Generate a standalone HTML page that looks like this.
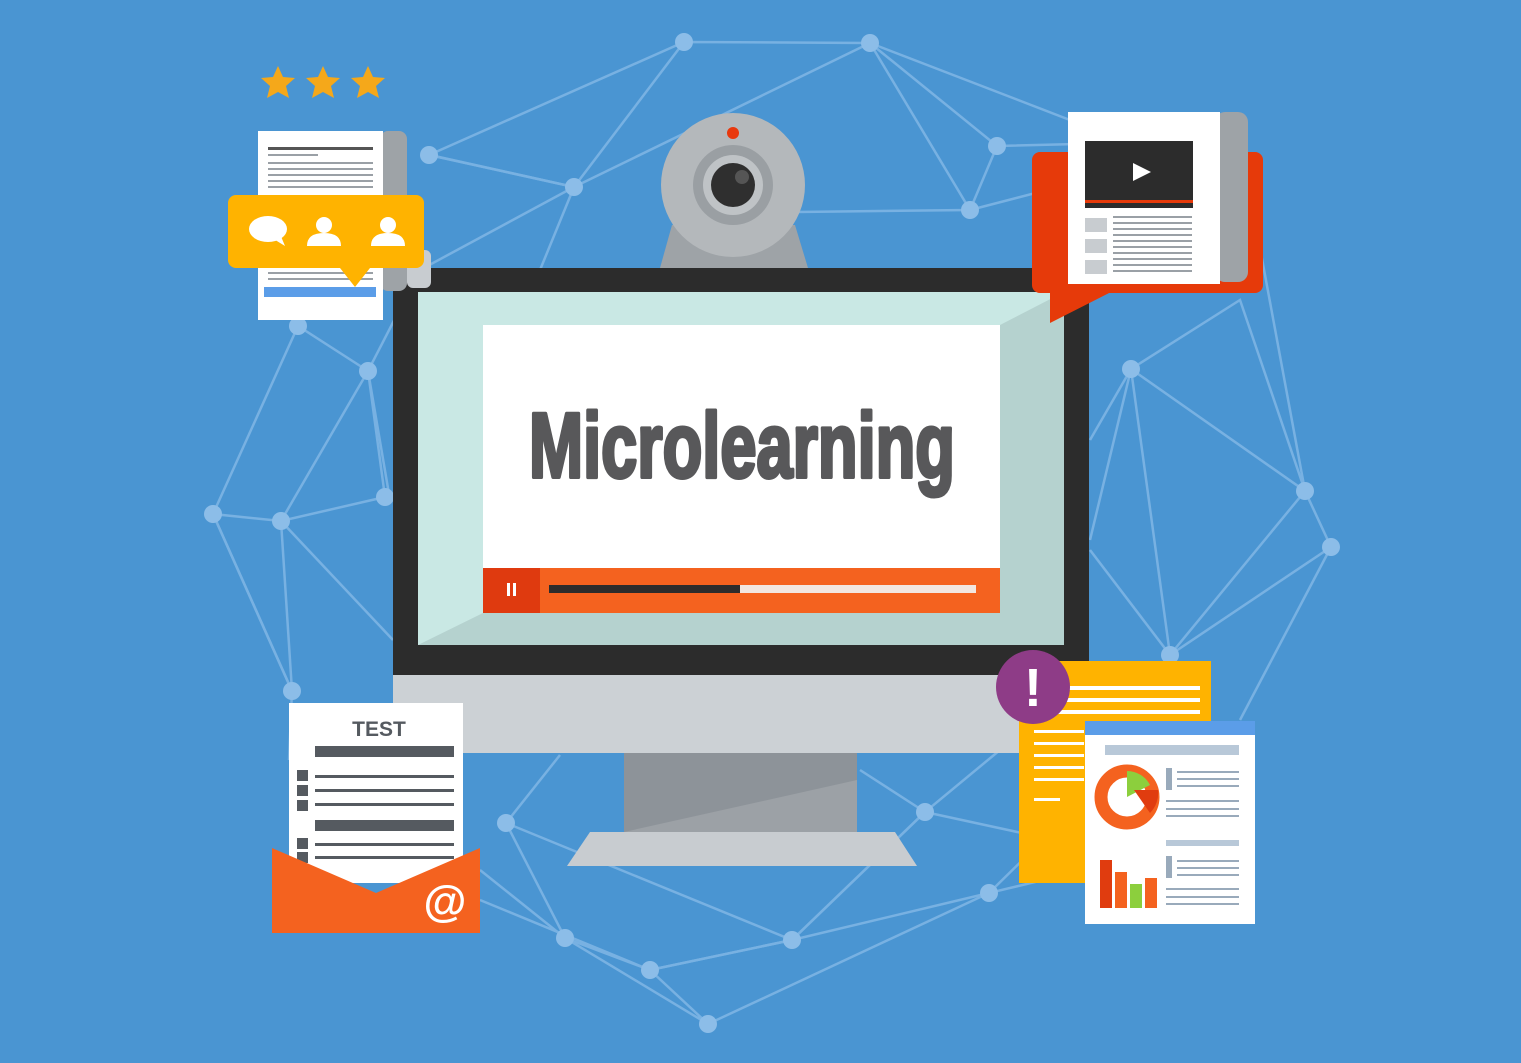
<!DOCTYPE html>
<html><head><meta charset="utf-8"><style>html,body{margin:0;padding:0;background:#4a95d2;}svg{display:block}</style></head>
<body>
<svg width="1521" height="1063" viewBox="0 0 1521 1063" xmlns="http://www.w3.org/2000/svg">
<rect width="1521" height="1063" fill="#4a95d2"/>
<g stroke="#7db5e4" stroke-width="2.5" fill="none" opacity="0.9">
<polyline points="429,155 684,42 870,43 997,146 970,210 797,212"/>
<polyline points="429,155 574,187 684,42"/>
<polyline points="574,187 870,43 970,210 1240,140 997,146"/>
<polyline points="870,43 1070,120 1240,140"/>
<polyline points="574,187 420,270 368,371 298,326 213,514 281,521 385,497 368,371 281,521 292,691 213,514"/>
<polyline points="368,371 390,500"/>
<polyline points="281,521 393,640"/>
<polyline points="213,514 292,691 289,760"/>
<polyline points="1131,369 1305,491 1331,547 1170,655 1131,369 1240,300 1305,491 1170,655"/>
<polyline points="1240,140 1305,491"/>
<polyline points="1090,540 1131,369 1090,440"/>
<polyline points="1331,547 1240,720"/>
<polyline points="1090,550 1170,655"/>
<polyline points="506,823 565,938 650,970 792,940 989,893 1085,870"/>
<polyline points="480,870 565,938 708,1024 989,893 1045,838 925,812 792,940 650,970 708,1024"/>
<polyline points="506,823 792,940 925,812 1000,750"/>
<polyline points="506,823 560,755"/>
<polyline points="480,900 650,970"/>
<polyline points="860,770 925,812"/>
<polyline points="430,155 574,187 540,270"/>
</g>
<g fill="#8cbde8">
<circle cx="684" cy="42" r="9"/><circle cx="870" cy="43" r="9"/><circle cx="997" cy="146" r="9"/><circle cx="970" cy="210" r="9"/>
<circle cx="574" cy="187" r="9"/><circle cx="429" cy="155" r="9"/><circle cx="368" cy="371" r="9"/><circle cx="298" cy="326" r="9"/>
<circle cx="213" cy="514" r="9"/><circle cx="281" cy="521" r="9"/><circle cx="385" cy="497" r="9"/><circle cx="292" cy="691" r="9"/>
<circle cx="1131" cy="369" r="9"/><circle cx="1305" cy="491" r="9"/><circle cx="1331" cy="547" r="9"/><circle cx="1170" cy="655" r="9"/>
<circle cx="925" cy="812" r="9"/><circle cx="1045" cy="838" r="9"/><circle cx="989" cy="893" r="9"/><circle cx="792" cy="940" r="9"/>
<circle cx="650" cy="970" r="9"/><circle cx="565" cy="938" r="9"/><circle cx="708" cy="1024" r="9"/><circle cx="506" cy="823" r="9"/>
</g>
<polygon points="672,225 795,225 808,268 660,268" fill="#9ea3a7"/>
<circle cx="733" cy="185" r="72" fill="#b4b8bb"/>
<circle cx="733" cy="185" r="40" fill="#9a9fa3"/>
<circle cx="733" cy="185" r="30" fill="#bfc3c6"/>
<circle cx="733" cy="185" r="22" fill="#2f2f2f"/>
<circle cx="742" cy="177" r="7" fill="#555"/>
<circle cx="733" cy="133" r="6" fill="#e8380d"/>
<rect x="393" y="268" width="696" height="410" fill="#2c2c2c"/>
<rect x="418" y="292" width="646" height="353" fill="#b5d2cf"/>
<polygon points="418,292 1064,292 1000,325 483,325 483,613 418,645" fill="#c9e8e4"/>
<rect x="393" y="675" width="696" height="78" fill="#ccd1d5"/>
<polygon points="624,753 857,753 857,832 624,832" fill="#8d9399"/>
<polygon points="624,832 857,780 857,832" fill="#9ca1a6"/>
<path d="M567,866 L590,832 L895,832 L917,866 Z" fill="#c8ccd0"/>
<rect x="483" y="325" width="517" height="243" fill="#fff"/>
<rect x="483" y="568" width="517" height="45" fill="#f4621f"/>
<rect x="483" y="568" width="57" height="45" fill="#df3a0f"/>
<rect x="507" y="583" width="3" height="13" fill="#fff"/><rect x="513" y="583" width="3" height="13" fill="#fff"/>
<rect x="549" y="585" width="427" height="8" fill="#f2e6e0"/>
<rect x="549" y="585" width="191" height="8" fill="#2c2c2c"/>
<text x="529" y="477" font-family="Liberation Sans Narrow, Liberation Sans, sans-serif" font-weight="bold" font-size="92" fill="#58585a" stroke="#58585a" stroke-width="4" stroke-linejoin="round" textLength="426" lengthAdjust="spacingAndGlyphs">Microlearning</text>
<g fill="#f5a81a">
<polygon points="278,66 283,77 295,78 286,86 289,98 278,92 267,98 270,86 261,78 273,77"/>
<polygon points="323,66 328,77 340,78 331,86 334,98 323,92 312,98 315,86 306,78 318,77"/>
<polygon points="368,66 373,77 385,78 376,86 379,98 368,92 357,98 360,86 351,78 363,77"/>
</g>
<rect x="380" y="131" width="27" height="160" rx="8" fill="#9ea3a7"/>
<rect x="407" y="250" width="24" height="38" rx="6" fill="#c8ccd0"/>
<rect x="258" y="131" width="125" height="189" fill="#fff"/>
<g fill="#9aa0a6"><rect x="268" y="147" width="105" height="3" fill="#555"/><rect x="268" y="154" width="50" height="2"/>
<rect x="268" y="162" width="105" height="2"/><rect x="268" y="168" width="105" height="2"/><rect x="268" y="174" width="105" height="2"/><rect x="268" y="180" width="105" height="2"/><rect x="268" y="186" width="105" height="2"/>
<rect x="268" y="272" width="105" height="2"/><rect x="268" y="278" width="105" height="2"/></g>
<rect x="264" y="287" width="112" height="10" fill="#5b9de8"/>
<rect x="228" y="195" width="196" height="73" rx="8" fill="#ffb300"/>
<polygon points="340,268 370,268 355,287" fill="#ffb300"/>
<g fill="#fff">
<ellipse cx="268" cy="229" rx="19" ry="13"/><polygon points="272,238 285,246 280,234"/>
<circle cx="324" cy="225" r="8"/><path d="M307,246 Q307,233 324,233 Q341,233 341,246 Z"/>
<circle cx="388" cy="225" r="8"/><path d="M371,246 Q371,233 388,233 Q405,233 405,246 Z"/>
</g>
<rect x="1032" y="152" width="231" height="141" rx="8" fill="#e63a0a"/>
<polygon points="1050,280 1115,290 1050,323" fill="#e63a0a"/>
<rect x="1215" y="112" width="33" height="170" rx="10" fill="#9ea3a7"/>
<rect x="1068" y="112" width="152" height="172" fill="#fff"/>
<rect x="1085" y="141" width="108" height="67" fill="#2c2c2c"/>
<rect x="1085" y="200" width="108" height="3" fill="#e63a0a"/>
<polygon points="1133,163 1151,172 1133,181" fill="#fff"/>
<g fill="#c8ccd0"><rect x="1085" y="218" width="22" height="14"/><rect x="1085" y="239" width="22" height="14"/><rect x="1085" y="260" width="22" height="14"/></g>
<g fill="#9aa0a6"><rect x="1113" y="216" width="79" height="2"/><rect x="1113" y="222" width="79" height="2"/><rect x="1113" y="228" width="79" height="2"/><rect x="1113" y="234" width="79" height="2"/><rect x="1113" y="240" width="79" height="2"/><rect x="1113" y="246" width="79" height="2"/><rect x="1113" y="252" width="79" height="2"/><rect x="1113" y="258" width="79" height="2"/><rect x="1113" y="264" width="79" height="2"/><rect x="1113" y="270" width="79" height="2"/></g>
<rect x="289" y="703" width="174" height="180" fill="#fff"/>
<text x="379" y="736" text-anchor="middle" font-family="Liberation Sans, sans-serif" font-weight="bold" font-size="21" fill="#555a60">TEST</text>
<g fill="#555a60"><rect x="315" y="746" width="139" height="11"/><rect x="315" y="775" width="139" height="3"/><rect x="315" y="789" width="139" height="3"/><rect x="315" y="803" width="139" height="3"/><rect x="315" y="820" width="139" height="11"/><rect x="315" y="843" width="139" height="3"/><rect x="315" y="856" width="139" height="3"/>
<rect x="297" y="770" width="11" height="11"/><rect x="297" y="785" width="11" height="11"/><rect x="297" y="800" width="11" height="11"/><rect x="297" y="838" width="11" height="11"/><rect x="297" y="852" width="11" height="11"/></g>
<polygon points="272,848 376,893 480,848 480,933 272,933" fill="#f4621f"/>
<text x="445" y="916" text-anchor="middle" font-family="Liberation Sans, sans-serif" font-weight="bold" font-size="44" fill="#fff">@</text>
<rect x="1019" y="661" width="192" height="222" fill="#ffb300"/>
<g fill="#fff"><rect x="1050" y="686" width="150" height="4"/><rect x="1050" y="698" width="150" height="4"/><rect x="1050" y="710" width="150" height="4"/>
<rect x="1034" y="730" width="50" height="3"/><rect x="1034" y="742" width="50" height="3"/><rect x="1034" y="754" width="50" height="3"/><rect x="1034" y="766" width="50" height="3"/><rect x="1034" y="778" width="50" height="3"/><rect x="1034" y="798" width="26" height="3"/></g>
<rect x="1085" y="721" width="170" height="203" fill="#fff"/>
<rect x="1085" y="721" width="170" height="14" fill="#5b9de8"/>
<rect x="1105" y="745" width="134" height="10" fill="#b8c8d8"/>
<rect x="1166" y="840" width="73" height="6" fill="#b8c8d8"/>
<circle cx="1127" cy="797" r="26" fill="none" stroke="#f4621f" stroke-width="13"/>
<path d="M1127,797 L1127,771 A26,26 0 0 1 1150,785 Z" fill="#8ccf3d"/>
<path d="M1134,790 L1158,790 A28,28 0 0 1 1150,813 Z" fill="#e03c0f"/>
<rect x="1100" y="860" width="12" height="48" fill="#e03c0f"/><rect x="1115" y="872" width="12" height="36" fill="#f4621f"/><rect x="1130" y="884" width="12" height="24" fill="#8ccf3d"/><rect x="1145" y="878" width="12" height="30" fill="#f4621f"/>
<g fill="#9ab"><rect x="1166" y="768" width="6" height="22"/><rect x="1177" y="771" width="62" height="2"/><rect x="1177" y="778" width="62" height="2"/><rect x="1177" y="785" width="62" height="2"/><rect x="1166" y="800" width="73" height="2"/><rect x="1166" y="808" width="73" height="2"/><rect x="1166" y="815" width="73" height="2"/>
<rect x="1166" y="856" width="6" height="22"/><rect x="1177" y="860" width="62" height="2"/><rect x="1177" y="867" width="62" height="2"/><rect x="1177" y="874" width="62" height="2"/><rect x="1166" y="888" width="73" height="2"/><rect x="1166" y="896" width="73" height="2"/><rect x="1166" y="903" width="73" height="2"/></g>
<circle cx="1033" cy="687" r="37" fill="#8e3c87"/>
<text x="1033" y="706" text-anchor="middle" font-family="Liberation Sans, sans-serif" font-weight="bold" font-size="54" fill="#fff">!</text>
</svg>
</body></html>
